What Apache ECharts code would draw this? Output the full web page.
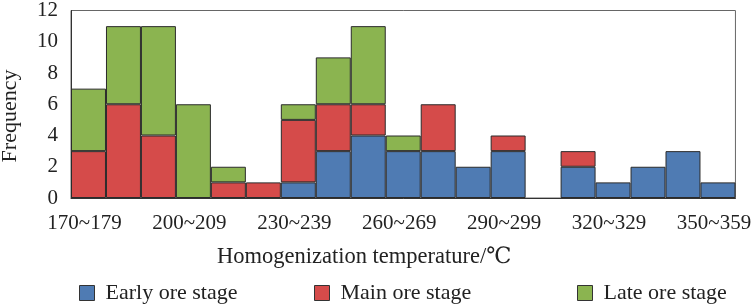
<!DOCTYPE html>
<html>
<head>
<meta charset="utf-8">
<script src="https://cdn.jsdelivr.net/npm/echarts@6/dist/echarts.min.js"></script>
<style>
  html, body { margin: 0; padding: 0; background: #fff; }
  #chart { width: 754px; height: 306px; }
</style>
</head>
<body>
<div id="chart"></div>
<script>
// temperature bins
var categories = ['170~179', '180~189', '190~199', '200~209', '210~219', '220~229', '230~239',
  '240~249', '250~259', '260~269', '270~279', '280~289', '290~299', '300~309', '310~319',
  '320~329', '330~339', '340~349', '350~359'];
var earlyStage = [0, 0, 0, 0, 0, 0, 1, 3, 4, 3, 3, 2, 3, 0, 2, 1, 2, 3, 1];
var mainStage  = [3, 6, 4, 0, 1, 1, 4, 3, 2, 0, 3, 0, 1, 0, 1, 0, 0, 0, 0];
var lateStage  = [4, 5, 7, 6, 1, 0, 1, 3, 5, 1, 0, 0, 0, 0, 0, 0, 0, 0, 0];
var yTicks = [0, 2, 4, 6, 8, 10, 12];

var serif = '"Liberation Serif", "DejaVu Serif", serif';
var chart = echarts.init(document.getElementById('chart'));

function barSeries(name, data, color) {
  return {
    name: name,
    type: 'bar',
    stack: 'total',
    // empty segments are left out so they draw no outline
    data: data.map(function (v) { return v === 0 ? '-' : v; }),
    barCategoryGap: 0,
    itemStyle: { color: color, borderColor: '#2b2b2b', borderWidth: 1 }
  };
}

var option = {
  animation: false,
  textStyle: { fontFamily: serif },
  grid: { left: 71, right: 13, top: 8, bottom: 108, show: true, borderColor: '#666', borderWidth: 1 },
  legend: [
    { data: ['Early ore stage'], left: 74, top: 277 },
    { data: ['Main ore stage'], left: 309, top: 277 },
    { data: ['Late ore stage'], left: 572, top: 277 }
  ].map(function (l) {
    l.icon = 'rect';
    l.itemWidth = 15;
    l.itemHeight = 15;
    l.itemStyle = { borderColor: '#333', borderWidth: 1 };
    l.textStyle = { fontFamily: serif, fontSize: 22, color: '#222', padding: [0, 0, 0, 6] };
    return l;
  }),
  xAxis: {
    type: 'category',
    data: categories,
    axisTick: { show: false },
    axisLine: { lineStyle: { color: '#333', width: 1 } },
    axisLabel: { interval: 2, fontFamily: serif, fontSize: 21, color: '#222', margin: 15, padding: [0, 8, 0, 0] }
  },
  yAxis: {
    type: 'value',
    min: yTicks[0],
    max: yTicks[yTicks.length - 1],
    interval: 2,
    splitLine: { show: false },
    axisTick: { show: false },
    axisLine: { show: true, lineStyle: { color: '#333' } },
    axisLabel: { fontFamily: serif, fontSize: 21, color: '#222', margin: 13 }
  },
  graphic: [
    {
      type: 'text', left: 217, top: 246,
      style: { text: 'Homogenization temperature/℃', font: '22.5px ' + serif, fill: '#222' }
    },
    {
      type: 'text', x: 10, y: 116, rotation: Math.PI / 2,
      style: { text: 'Frequency', font: '22px ' + serif, fill: '#222', textAlign: 'center', textVerticalAlign: 'middle' }
    }
  ],
  series: [
    barSeries('Early ore stage', earlyStage, '#4f7bb3'),
    barSeries('Main ore stage', mainStage, '#d54b4a'),
    barSeries('Late ore stage', lateStage, '#8bb450')
  ]
};
chart.setOption(option);
</script>
</body>
</html>
